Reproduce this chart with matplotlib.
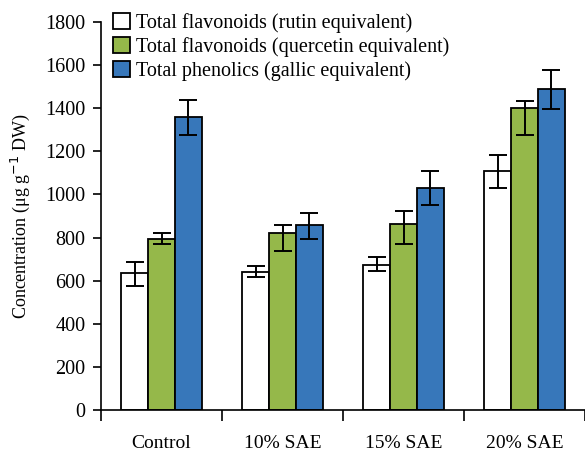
#!/usr/bin/env python3

import matplotlib
matplotlib.use('Agg')
import matplotlib.pyplot as plt
import numpy as np

groups = ['Control', '10% SAE', '15% SAE', '20% SAE']
series = ['Total flavonoids (rutin equivalent)',
          'Total flavonoids (quercetin equivalent)',
          'Total phenolics (gallic equivalent)']

rutin = [635, 642, 674, 1107]
rutin_hi = [53, 28, 34, 76]
rutin_lo = [58, 24, 28, 77]

quercetin = [795, 822, 863, 1401]
quercetin_hi = [26, 38, 60, 31]
quercetin_lo = [25, 86, 94, 124]

gallic = [1360, 860, 1031, 1487]
gallic_hi = [78, 55, 78, 89]
gallic_lo = [85, 68, 79, 92]

colors = ['white', '#95b84a', '#3777ba']

plt.rcParams['font.family'] = ['Liberation Serif', 'DejaVu Serif']

fig = plt.figure(figsize=(5.85, 4.53), dpi=100)
ax = fig.add_axes([101 / 585, 43 / 453, 484 / 585, 388 / 453])

w = 0.223
centers = np.arange(len(groups)) + 0.5
data = [(rutin, rutin_lo, rutin_hi),
        (quercetin, quercetin_lo, quercetin_hi),
        (gallic, gallic_lo, gallic_hi)]
for k, (vals, lo, hi) in enumerate(data):
    ax.bar(centers + (k - 1) * w, vals, w, color=colors[k], edgecolor='black',
           linewidth=1.3, label=series[k], zorder=2,
           yerr=[lo, hi], capsize=6.5,
           error_kw=dict(elinewidth=1.4, capthick=1.4, ecolor='black'))

ax.set_xlim(0, 4)
ax.set_ylim(0, 1800)
ax.set_yticks(range(0, 1801, 200))
ax.tick_params(axis='y', labelsize=14.5, length=6, width=1.2, direction='out',
               pad=5)

# group boundaries get the ticks, names sit in the middle
ax.set_xticks([0, 1, 2, 3, 4])
ax.set_xticklabels([])
ax.tick_params(axis='x', which='major', length=8, width=1.2, direction='out')
ax.set_xticks(centers, minor=True)
ax.set_xticklabels(groups, minor=True, fontsize=14)
ax.tick_params(axis='x', which='minor', length=0, pad=18)

for s in ['top', 'right']:
    ax.spines[s].set_visible(False)
for s in ['left', 'bottom']:
    ax.spines[s].set_linewidth(1.2)

ax.set_ylabel('Concentration (\u03bcg g$^{\u22121}$ DW)', fontsize=13, labelpad=10)

ax.legend(loc='upper left', bbox_to_anchor=(0.008, 1.045), frameon=False,
          fontsize=14.5, handlelength=0.85, handleheight=0.85, handletextpad=0.3,
          labelspacing=0.2, borderaxespad=0)

fig.savefig('out.png', dpi=100)
